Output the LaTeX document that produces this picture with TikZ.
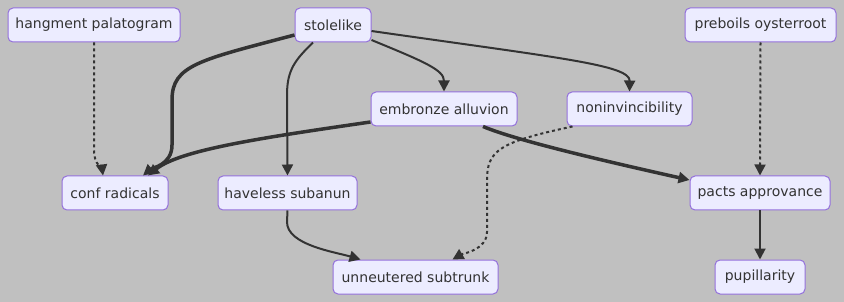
\documentclass[tikz,border=0pt]{standalone}
\usepackage{fontspec}
\setmainfont{DejaVu Sans}
\usetikzlibrary{arrows.meta}
\definecolor{bg}{HTML}{C0C0C0}
\definecolor{boxfill}{HTML}{ECECFF}
\definecolor{boxline}{HTML}{9370DB}
\definecolor{ink}{HTML}{333333}
\tikzset{
  box/.style={draw=boxline, fill=boxfill, line width=1pt, rounded corners=5pt,
    minimum height=34pt, inner sep=0pt, text=ink,
    font=\fontsize{14}{16}\selectfont},
  edge/.style={draw=ink, line width=2pt, -{Triangle[length=11pt,width=11pt]}},
  thick edge/.style={edge, line width=3.5pt},
  dotted edge/.style={edge, dash pattern=on 3pt off 3pt}
}
\begin{document}
\begin{tikzpicture}[x=1pt,y=-1pt]
\fill[bg] (0,0) rectangle (844,302);
\useasboundingbox (0,0) rectangle (844,302);

\node[box, minimum width=172pt] (hang) at (94,25) {hangment palatogram};
\node[box, minimum width=76pt] (stole) at (333,25) {stolelike};
\node[box, minimum width=151pt] (pre) at (760.5,25) {preboils oysterroot};
\node[box, minimum width=146pt] (emb) at (444,109) {embronze alluvion};
\node[box, minimum width=125pt] (non) at (629.5,109) {noninvincibility};
\node[box, minimum width=106pt] (conf) at (115,193) {conf radicals};
\node[box, minimum width=139pt] (have) at (287.5,193) {haveless subanun};
\node[box, minimum width=140pt] (pacts) at (760,193) {pacts approvance};
\node[box, minimum width=165pt] (unn) at (415.5,277) {unneutered subtrunk};
\node[box, minimum width=90pt] (pup) at (760,277) {pupillarity};

% dotted links
\draw[dotted edge] (hang.south) -- (94,150) .. controls (94,165) and (102,168) .. ([xshift=-12pt]conf.north);
\draw[dotted edge] ([xshift=-57pt]non.south) .. controls (500,142) and (487,150) .. (487,180)
  -- (487,232) .. controls (487,250) and (462,254) .. ([xshift=37pt]unn.north);
\draw[dotted edge] (pre.south) -- (pacts.north);

% heavy links
\draw[thick edge] ([yshift=-10pt]stole.west) .. controls (200,60) and (172,65) .. (172,100)
  -- (172,145) .. controls (172,165) and (152,168) .. ([xshift=28pt]conf.north);
\draw[thick edge] ([yshift=-13pt]emb.west) .. controls (260,138) and (180,150) .. ([xshift=33pt]conf.north);
\draw[thick edge] ([xshift=39pt]emb.south) .. controls (515,140) and (600,160) .. ([yshift=13pt]pacts.west);

% regular links
\draw[edge] ([xshift=-20pt]stole.south) .. controls (295,60) and (287,70) .. (287,95) -- (have.north);
\draw[edge] ([yshift=-15pt]stole.east) .. controls (425,62) and (444,70) .. (emb.north);
\draw[edge] ([yshift=-6pt]stole.east) .. controls (560,58) and (630,65) .. (non.north);
\draw[edge] (have.south) -- (287,222) .. controls (287,245) and (335,252) .. ([xshift=-55pt]unn.north);
\draw[edge] (pacts.south) -- (pup.north);
\end{tikzpicture}
\end{document}
